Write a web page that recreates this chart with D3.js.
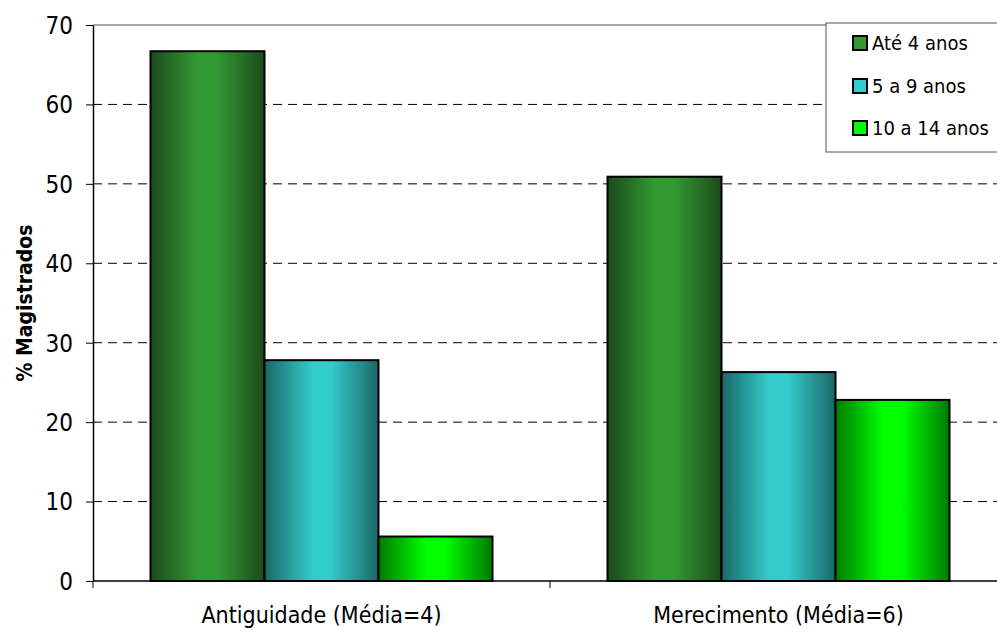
<!DOCTYPE html>
<html>
<head>
<meta charset="utf-8">
<script src="https://cdn.jsdelivr.net/npm/d3@7"></script>
<style>
  body { margin: 0; background: #fff; }
  text { font-family: "DejaVu Sans Condensed", "DejaVu Sans", sans-serif; fill: #000; }
</style>
</head>
<body>
<svg id="chart" width="997" height="632"></svg>
<script>
// chart data
const categories = ['Antiguidade (Média=4)', 'Merecimento (Média=6)'];
const seriesNames = ['Até 4 anos', '5 a 9 anos', '10 a 14 anos'];
const ate4 = [66.7, 50.9];
const de5a9 = [27.8, 26.3];
const de10a14 = [5.6, 22.8];
const yTicks = [0, 10, 20, 30, 40, 50, 60, 70];

const seriesValues = [ate4, de5a9, de10a14];
// edge / centre colours for the cylinder-like shading
const shades = [
  { edge: '#1b4b1b', mid: '#339933' },
  { edge: '#1b6767', mid: '#33cccc' },
  { edge: '#007a00', mid: '#00ff00' }
];

const FONT = '"DejaVu Sans Condensed", "DejaVu Sans", sans-serif';
const width = 997, height = 632;
const margin = { top: 25, right: -10, bottom: 51, left: 93 };

const svg = d3.select('#chart');

// gradients
const defs = svg.append('defs');
shades.forEach((s, i) => {
  const g = defs.append('linearGradient').attr('id', 'grad' + i)
    .attr('x1', '0%').attr('x2', '100%').attr('y1', '0%').attr('y2', '0%');
  g.append('stop').attr('offset', '0%').attr('stop-color', s.edge);
  g.append('stop').attr('offset', '42%').attr('stop-color', s.mid);
  g.append('stop').attr('offset', '58%').attr('stop-color', s.mid);
  g.append('stop').attr('offset', '100%').attr('stop-color', s.edge);
});

const x0 = d3.scaleBand()
  .domain(categories)
  .range([margin.left, width - margin.right])
  .paddingInner(0)
  .paddingOuter(0);

const groupWidth = 342;
const x1 = d3.scaleBand()
  .domain(seriesNames)
  .range([0, groupWidth]);

const y = d3.scaleLinear()
  .domain([0, 70])
  .range([height - margin.bottom, margin.top]);

// top border of plot area
svg.append('line')
  .attr('x1', margin.left).attr('x2', width)
  .attr('y1', y(70)).attr('y2', y(70))
  .attr('stroke', '#888').attr('stroke-width', 1.5);

// dashed grid
svg.append('g')
  .selectAll('line')
  .data(yTicks.filter(d => d > 0 && d < 70))
  .join('line')
  .attr('x1', margin.left).attr('x2', width)
  .attr('y1', d => y(d)).attr('y2', d => y(d))
  .attr('stroke', '#000')
  .attr('stroke-width', 1)
  .attr('stroke-dasharray', '9,6');

// bars
const groups = svg.append('g')
  .selectAll('g')
  .data(categories)
  .join('g')
  .attr('transform', (d) => `translate(${x0(d) + (x0.bandwidth() - groupWidth) / 2},0)`);

groups.selectAll('rect')
  .data((c, ci) => seriesNames.map((s, si) => ({ s, si, v: seriesValues[si][ci] })))
  .join('rect')
  .attr('x', d => x1(d.s))
  .attr('y', d => y(d.v))
  .attr('width', x1.bandwidth())
  .attr('height', d => y(0) - y(d.v))
  .attr('fill', d => `url(#grad${d.si})`)
  .attr('stroke', '#000')
  .attr('stroke-width', 2);

// y axis
const yAxis = d3.axisLeft(y).tickValues(yTicks).tickSize(7).tickSizeOuter(0);
const gy = svg.append('g')
  .attr('transform', `translate(${margin.left},0)`)
  .call(yAxis)
  .attr('font-family', FONT);
gy.select('.domain').attr('stroke', '#000').attr('stroke-width', 1.5);
gy.selectAll('.tick line').attr('stroke', '#000');
gy.selectAll('.tick text').attr('font-size', 24).attr('x', -20).attr('dy', '0.35em');

// x axis
const gx = svg.append('g')
  .attr('transform', `translate(0,${y(0)})`);
gx.append('line')
  .attr('x1', margin.left).attr('x2', width)
  .attr('stroke', '#000').attr('stroke-width', 1.5);
const xTickPos = [margin.left].concat(categories.map(c => x0(c) + x0.bandwidth()));
gx.selectAll('.xtick')
  .data(xTickPos)
  .join('line')
  .attr('class', 'xtick')
  .attr('x1', d => d).attr('x2', d => d)
  .attr('y1', 0).attr('y2', 7)
  .attr('stroke', '#000');
gx.selectAll('.xlabel')
  .data(categories)
  .join('text')
  .attr('class', 'xlabel')
  .attr('x', d => x0(d) + x0.bandwidth() / 2)
  .attr('y', 42)
  .attr('text-anchor', 'middle')
  .attr('font-size', 23)
  .text(d => d);

// y axis title
svg.append('text')
  .attr('transform', `translate(32,${(y(0) + y(70)) / 2}) rotate(-90)`)
  .attr('text-anchor', 'middle')
  .attr('font-size', 21)
  .attr('font-weight', 'bold')
  .text('% Magistrados');

// legend
const legend = svg.append('g');
legend.append('rect')
  .attr('x', 826).attr('y', 23)
  .attr('width', 200).attr('height', 129)
  .attr('fill', '#fff')
  .attr('stroke', '#555').attr('stroke-width', 1);
const legendY = [43, 86, 128];
const items = legend.selectAll('.item')
  .data(seriesNames)
  .join('g')
  .attr('class', 'item')
  .attr('transform', (d, i) => `translate(853,${legendY[i]})`);
items.append('rect')
  .attr('x', 0).attr('y', -7)
  .attr('width', 14).attr('height', 14)
  .attr('fill', (d, i) => shades[i].mid)
  .attr('stroke', '#000').attr('stroke-width', 2);
items.append('text')
  .attr('x', 19).attr('y', 7)
  .attr('font-size', 20)
  .text(d => d);
</script>
</body>
</html>
